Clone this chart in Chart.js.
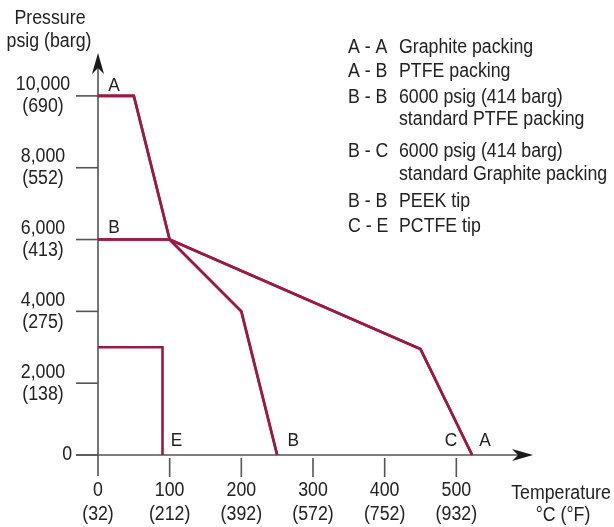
<!DOCTYPE html>
<html>
<head>
    <meta charset="utf-8" />
    <title>Pressure vs Temperature</title>
    <script src="https://cdn.jsdelivr.net/npm/chart.js@4/dist/chart.umd.min.js"></script>
    <style>
        body { margin: 0; background: #fff; }
        canvas { display: block; }
    </style>
</head>
<body>
    <canvas id="chart" width="614" height="527"></canvas>
    <script>
        // temperatures in degC, pressures in psig
        const graphiteTemp = [0, 50, 100, 450, 522];
        const graphitePress = [10000, 10000, 6000, 2950, 0];
        const ptfeTemp = [0, 50, 100, 200, 250];
        const ptfePress = [10000, 10000, 6000, 4000, 0];
        const stdPtfeTemp = [0, 100, 200, 250];
        const stdPtfePress = [6000, 6000, 4000, 0];
        const stdGraphiteTemp = [0, 100, 450, 522];
        const stdGraphitePress = [6000, 6000, 2950, 0];
        const pctfeTemp = [0, 90, 90];
        const pctfePress = [3000, 3000, 0];

        const xTicks = [0, 100, 200, 300, 400, 500];
        const xTickLabels = [["0", "(32)"], ["100", "(212)"], ["200", "(392)"], ["300", "(572)"], ["400", "(752)"], ["500", "(932)"]];
        const yTicks = [0, 2000, 4000, 6000, 8000, 10000];
        const yTickLabels = [["0"], ["2,000", "(138)"], ["4,000", "(275)"], ["6,000", "(413)"], ["8,000", "(552)"], ["10,000", "(690)"]];

        const pointLetters = [
            { t: "A", x: 0, y: 10000, dx: 16, dy: -10 },
            { t: "B", x: 0, y: 6000, dx: 16, dy: -12 },
            { t: "E", x: 90, y: 0, dx: 14, dy: -14 },
            { t: "B", x: 250, y: 0, dx: 16, dy: -14 },
            { t: "C", x: 522, y: 0, dx: -21, dy: -14 },
            { t: "A", x: 522, y: 0, dx: 13, dy: -14 }
        ];
        const legendRows = [
            ["A - A", "Graphite packing"],
            ["A - B", "PTFE packing"],
            ["B - B", "6000 psig (414 barg)", "standard PTFE packing"],
            ["B - C", "6000 psig (414 barg)", "standard Graphite packing"],
            ["B - B", "PEEK tip"],
            ["C - E", "PCTFE tip"]
        ];
        const legendLineY = [48, 72, 98, 120, 152, 175, 202, 227];

        const FONT = "'Liberation Sans', Arial, sans-serif";
        const RED = '#9e1844';
        const AXIS = '#555555';
        const TEXT = '#222222';
        const SQUEEZE = 0.91;

        function pts(xs, ys) {
            return xs.map((x, i) => ({ x: x, y: ys[i] }));
        }
        function series(xs, ys) {
            return {
                data: pts(xs, ys),
                showLine: true,
                borderColor: RED,
                borderWidth: 2.6,
                pointRadius: 0,
                fill: false,
                clip: false
            };
        }

        // condensed text, like the narrow Helvetica of the original
        function text(ctx, s, x, y) {
            ctx.save();
            ctx.translate(x, y);
            ctx.scale(SQUEEZE, 1);
            ctx.fillText(s, 0, 0);
            ctx.restore();
        }

        function arrowHead(ctx, tipX, tipY, dirX, dirY) {
            const len = 21, half = 6, notch = 6;
            const px = -dirY, py = dirX;
            ctx.beginPath();
            ctx.moveTo(tipX, tipY);
            ctx.lineTo(tipX - dirX * len + px * half, tipY - dirY * len + py * half);
            ctx.lineTo(tipX - dirX * (len - notch), tipY - dirY * (len - notch));
            ctx.lineTo(tipX - dirX * len - px * half, tipY - dirY * len - py * half);
            ctx.closePath();
            ctx.fill();
        }

        const decor = {
            id: 'decor',
            beforeDatasetsDraw(chart) {
                const ctx = chart.ctx;
                const xs = chart.scales.x, ys = chart.scales.y;
                const x0 = xs.getPixelForValue(0), y0 = ys.getPixelForValue(0);
                ctx.save();
                ctx.strokeStyle = AXIS;
                ctx.fillStyle = '#1a1a1a';
                ctx.lineWidth = 1.6;
                // y axis
                ctx.beginPath();
                ctx.moveTo(x0, y0 + 21);
                ctx.lineTo(x0, 62);
                ctx.stroke();
                arrowHead(ctx, x0, 53, 0, -1);
                // x axis
                ctx.beginPath();
                ctx.moveTo(x0 - 22, y0);
                ctx.lineTo(524, y0);
                ctx.stroke();
                arrowHead(ctx, 533, y0, 1, 0);
                yTicks.forEach(v => {
                    const y = ys.getPixelForValue(v);
                    ctx.beginPath();
                    ctx.moveTo(x0 - 22, y);
                    ctx.lineTo(x0, y);
                    ctx.stroke();
                });
                xTicks.forEach(v => {
                    if (v === 0) return;
                    const x = xs.getPixelForValue(v);
                    ctx.beginPath();
                    ctx.moveTo(x, y0 + 3);
                    ctx.lineTo(x, y0 + 22);
                    ctx.stroke();
                });

                ctx.fillStyle = TEXT;
                ctx.font = '19.5px ' + FONT;
                ctx.textBaseline = 'middle';
                yTickLabels.forEach((lines, i) => {
                    const y = ys.getPixelForValue(yTicks[i]);
                    if (lines.length === 1) {
                        ctx.textAlign = 'right';
                        text(ctx, lines[0], x0 - 26, y);
                    } else {
                        ctx.textAlign = 'center';
                        text(ctx, lines[0], 43, y - 11);
                        text(ctx, lines[1], 43, y + 11);
                    }
                });
                ctx.textAlign = 'center';
                xTickLabels.forEach((lines, i) => {
                    const x = xs.getPixelForValue(xTicks[i]);
                    text(ctx, lines[0], x, y0 + 36);
                    text(ctx, lines[1], x, y0 + 60);
                });
                text(ctx, 'Pressure', 50, 19);
                text(ctx, 'psig (barg)', 49, 42);
                text(ctx, 'Temperature', 561, 494);
                text(ctx, '\u00B0C (\u00B0F)', 563, 516);

                ctx.font = '19px ' + FONT;
                pointLetters.forEach(p => {
                    text(ctx, p.t, xs.getPixelForValue(p.x) + p.dx, ys.getPixelForValue(p.y) + p.dy);
                });

                // legend
                ctx.textAlign = 'left';
                ctx.font = '19.5px ' + FONT;
                let k = 0;
                legendRows.forEach(row => {
                    text(ctx, row[0], 348, legendLineY[k]);
                    text(ctx, row[1], 399, legendLineY[k]);
                    k++;
                    if (row.length > 2) {
                        text(ctx, row[2], 399, legendLineY[k]);
                        k++;
                    }
                });
                ctx.restore();
            }
        };

        new Chart(document.getElementById('chart'), {
            type: 'scatter',
            data: {
                datasets: [
                    series(graphiteTemp, graphitePress),
                    series(ptfeTemp, ptfePress),
                    series(stdPtfeTemp, stdPtfePress),
                    series(stdGraphiteTemp, stdGraphitePress),
                    series(pctfeTemp, pctfePress)
                ]
            },
            options: {
                responsive: false,
                animation: false,
                layout: { padding: { left: 98, right: 86, top: 60, bottom: 72 } },
                plugins: { legend: { display: false }, tooltip: { enabled: false } },
                scales: {
                    x: { type: 'linear', min: 0, max: 600, display: false },
                    y: { type: 'linear', min: 0, max: 11000, display: false }
                }
            },
            plugins: [decor]
        });
    </script>
</body>
</html>
